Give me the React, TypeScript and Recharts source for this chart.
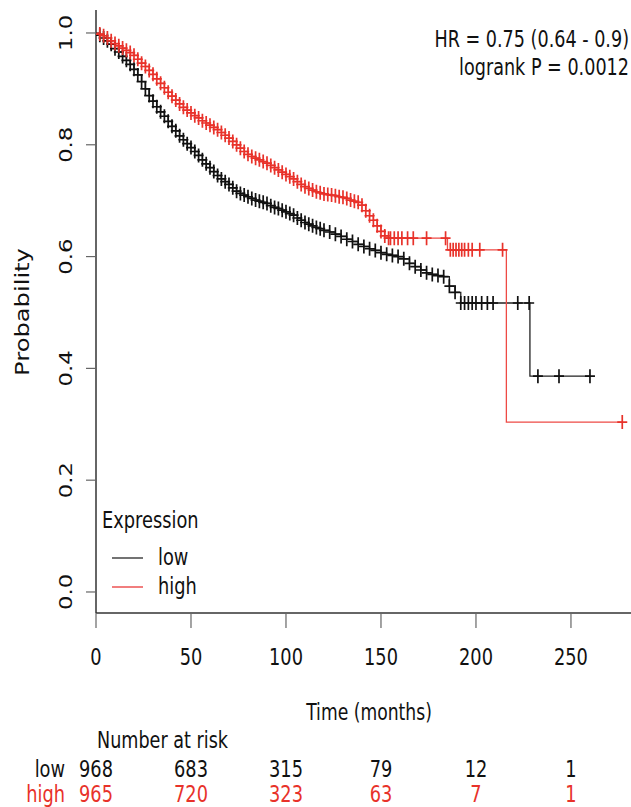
import React from "react";
import { ComposedChart, Line, XAxis, YAxis } from "recharts";

// Kaplan-Meier steps: time (months), survival, censored flag
const lowTime = [
  0, 2, 4, 6, 8, 10, 12, 14, 16, 18, 20, 22, 24, 26, 28, 30, 32, 34, 36, 38, 40, 42, 44, 46, 48, 50,
  52, 54, 56, 58, 60, 62, 64, 66, 68, 70, 72, 74, 76, 78, 80, 82, 84, 86, 88, 90, 92, 94, 96, 98, 100,
  102, 104, 106, 108, 110, 112, 114, 116, 118, 120, 123, 126, 129, 132, 135, 138, 141, 144, 147, 150,
  153, 156, 159, 162, 165, 168, 171, 174, 177, 180, 183, 186, 189, 192, 194, 196, 198, 200, 203, 206,
  209, 222, 228, 228.4, 232.6, 243.7, 260,
];
const lowSurv = [
  1.0, 0.996, 0.991, 0.986, 0.98, 0.972, 0.966, 0.958, 0.951, 0.944, 0.935, 0.925, 0.913, 0.9, 0.888,
  0.878, 0.868, 0.859, 0.851, 0.842, 0.833, 0.825, 0.816, 0.809, 0.802, 0.795, 0.788, 0.781, 0.773,
  0.766, 0.759, 0.752, 0.745, 0.739, 0.734, 0.729, 0.723, 0.717, 0.713, 0.71, 0.707, 0.704, 0.701,
  0.699, 0.697, 0.695, 0.691, 0.688, 0.686, 0.683, 0.68, 0.677, 0.674, 0.669, 0.665, 0.661, 0.658,
  0.655, 0.652, 0.65, 0.647, 0.644, 0.64, 0.636, 0.631, 0.627, 0.622, 0.618, 0.614, 0.611, 0.607,
  0.604, 0.602, 0.6, 0.596, 0.588, 0.582, 0.576, 0.571, 0.568, 0.566, 0.564, 0.547, 0.536, 0.517,
  0.517, 0.517, 0.517, 0.517, 0.517, 0.517, 0.517, 0.517, 0.517, 0.386, 0.386, 0.386, 0.386,
];
const lowCens = [
  0, 1, 1, 1, 1, 1, 1, 1, 1, 1, 1, 1, 1, 1, 1, 1, 1, 1, 1, 1, 1, 1, 1, 1, 1, 1, 1, 1, 1, 1, 1, 1, 1,
  1, 1, 1, 1, 1, 1, 1, 1, 1, 1, 1, 1, 1, 1, 1, 1, 1, 1, 1, 1, 1, 1, 1, 1, 1, 1, 1, 1, 1, 1, 1, 1, 1,
  1, 1, 1, 1, 1, 1, 1, 1, 1, 1, 1, 1, 1, 1, 1, 1, 1, 1, 1, 1, 1, 1, 1, 1, 1, 1, 1, 1, 0, 1, 1, 1,
];

const highTime = [
  0, 2, 4, 6, 8, 10, 12, 14, 16, 18, 20, 22, 24, 26, 28, 30, 32, 34, 36, 38, 40, 42, 44, 46, 48, 50,
  52, 54, 56, 58, 60, 62, 64, 66, 68, 70, 72, 74, 76, 78, 80, 82, 84, 86, 88, 90, 92, 94, 96, 98, 100,
  102, 104, 106, 108, 110, 112, 114, 116, 118, 120, 122, 124, 126, 128, 130, 132, 134, 136, 138, 140,
  142, 144, 146, 148, 150, 152, 154, 155, 157, 159, 161, 164, 167, 174, 184, 185, 186.5, 188, 189.5,
  191, 192.5, 194, 196, 198, 202, 214, 216, 277,
];
const highSurv = [
  1.0, 0.998, 0.995, 0.991, 0.986, 0.981, 0.977, 0.973, 0.969, 0.965, 0.96, 0.953, 0.946, 0.94, 0.933,
  0.926, 0.918, 0.91, 0.902, 0.894, 0.887, 0.88, 0.873, 0.867, 0.862, 0.857, 0.852, 0.848, 0.843,
  0.839, 0.835, 0.831, 0.827, 0.822, 0.817, 0.812, 0.806, 0.8, 0.794, 0.788, 0.783, 0.779, 0.776,
  0.773, 0.77, 0.767, 0.763, 0.759, 0.755, 0.751, 0.747, 0.743, 0.739, 0.734, 0.729, 0.725, 0.722,
  0.719, 0.716, 0.714, 0.712, 0.711, 0.71, 0.709, 0.707, 0.706, 0.704, 0.701, 0.699, 0.697, 0.692,
  0.682, 0.673, 0.665, 0.655, 0.645, 0.637, 0.633, 0.633, 0.633, 0.633, 0.633, 0.633, 0.633, 0.633,
  0.633, 0.612, 0.612, 0.612, 0.612, 0.612, 0.612, 0.612, 0.612, 0.612, 0.612, 0.612, 0.304, 0.304,
];
const highCens = [
  0, 1, 1, 1, 1, 1, 1, 1, 1, 1, 1, 1, 1, 1, 1, 1, 1, 1, 1, 1, 1, 1, 1, 1, 1, 1, 1, 1, 1, 1, 1, 1, 1,
  1, 1, 1, 1, 1, 1, 1, 1, 1, 1, 1, 1, 1, 1, 1, 1, 1, 1, 1, 1, 1, 1, 1, 1, 1, 1, 1, 1, 1, 1, 1, 1, 1,
  1, 1, 1, 1, 1, 1, 1, 1, 1, 1, 1, 1, 1, 1, 1, 1, 1, 1, 1, 1, 0, 1, 1, 1, 1, 1, 1, 1, 1, 1, 1, 0, 1,
];

const timeTicks = [0, 50, 100, 150, 200, 250];
const probTicks = [0, 0.2, 0.4, 0.6, 0.8, 1.0];
const lowAtRisk = [968, 683, 315, 79, 12, 1];
const highAtRisk = [965, 720, 323, 63, 7, 1];

const FONT = "'DejaVu Sans', Verdana, sans-serif";
const SY = 1.3; // the picture is stretched vertically
const RED = "#e8322a";
const BLACK = "#111";

const toRows = (time: number[], surv: number[], cens: number[]) =>
  time.map((t, i) => ({ t, s: surv[i], c: cens[i] }));

const lowRows = toRows(lowTime, lowSurv, lowCens);
const highRows = toRows(highTime, highSurv, highCens);

const censorMark = (color: string) => (props: any) => {
  const { cx, cy, payload, index } = props;
  if (!payload || !payload.c || cx == null) return <g key={`n${index}`} />;
  return (
    <path
      key={`m${index}`}
      d={`M${cx - 5},${cy}H${cx + 5}M${cx},${cy - 7}V${cy + 7}`}
      stroke={color}
      strokeWidth={1.7}
      fill="none"
    />
  );
};

function Txt({ x, y, children, size = 17.8, anchor = "start", fill = "#111", rotate = false }: any) {
  const tf = `translate(${x},${y}) scale(1,${SY})${rotate ? " rotate(-90)" : ""}`;
  return (
    <text transform={tf} textAnchor={anchor} fontSize={size} fontFamily={FONT} fill={fill}>
      {children}
    </text>
  );
}

function TimeTick({ x, y, payload }: any) {
  const i = timeTicks.indexOf(payload.value);
  return (
    <g>
      <Txt x={x} y={y + 37} anchor="middle">{payload.value}</Txt>
      <Txt x={x} y={y + 149} anchor="middle">{lowAtRisk[i]}</Txt>
      <Txt x={x} y={y + 174} anchor="middle" fill={RED}>{highAtRisk[i]}</Txt>
    </g>
  );
}

function ProbTick({ x, y, payload }: any) {
  return (
    <Txt x={x - 14} y={y} anchor="middle" size={17.5} rotate>
      {payload.value.toFixed(1)}
    </Txt>
  );
}

export default function App() {
  return (
    <div style={{ position: "absolute", left: 0, top: 0, width: 631, height: 807, background: "#fff" }}>
      <ComposedChart width={631} height={807} margin={{ top: 10, right: 0, bottom: 0, left: 0 }}>
        <XAxis
          xAxisId="top"
          orientation="top"
          type="number"
          dataKey="t"
          domain={[0, 281.6]}
          height={0}
          tick={false}
          tickLine={false}
          axisLine={{ stroke: "#999", strokeWidth: 1.5 }}
        />
        <XAxis
          type="number"
          dataKey="t"
          domain={[0, 281.6]}
          allowDataOverflow
          ticks={timeTicks}
          height={194}
          tickSize={15}
          tickMargin={0}
          tickLine={{ stroke: "#666", strokeWidth: 1.2 }}
          axisLine={{ stroke: "#333", strokeWidth: 1.5 }}
          tick={<TimeTick />}
          interval={0}
        />
        <YAxis
          type="number"
          domain={[-0.0376, 1.0411]}
          allowDataOverflow
          ticks={probTicks}
          width={96}
          tickSize={10}
          tickMargin={0}
          tickLine={{ stroke: "#666", strokeWidth: 1.2 }}
          axisLine={{ stroke: "#333", strokeWidth: 1.5 }}
          tick={<ProbTick />}
          interval={0}
        />
        <Line
          data={lowRows}
          dataKey="s"
          type="stepAfter"
          stroke="#222"
          strokeWidth={1.3}
          dot={censorMark(BLACK)}
          activeDot={false}
          isAnimationActive={false}
        />
        <Line
          data={highRows}
          dataKey="s"
          type="stepAfter"
          stroke="#ee4a45"
          strokeWidth={1.3}
          dot={censorMark(RED)}
          activeDot={false}
          isAnimationActive={false}
        />
      </ComposedChart>
      <svg
        width={631}
        height={807}
        style={{ position: "absolute", left: 0, top: 0, pointerEvents: "none" }}
      >
        <Txt x={629} y={47} anchor="end" size={17.6}>HR = 0.75 (0.64 - 0.9)</Txt>
        <Txt x={629} y={75} anchor="end" size={17.6}>logrank P = 0.0012</Txt>
        <Txt x={29} y={312} anchor="middle" size={18.6} rotate>Probability</Txt>
        <Txt x={369} y={720} anchor="middle" size={17.2}>Time (months)</Txt>
        <Txt x={97} y={748} size={17.6}>Number at risk</Txt>
        <Txt x={65} y={777} anchor="end">low</Txt>
        <Txt x={65} y={802} anchor="end" fill={RED}>high</Txt>
        <Txt x={102} y={528}>Expression</Txt>
        <line x1={112} x2={143} y1={558} y2={558} stroke="#444" strokeWidth={1.5} />
        <line x1={112} x2={143} y1={587} y2={587} stroke="#f07070" strokeWidth={1.8} />
        <Txt x={158} y={565}>low</Txt>
        <Txt x={158} y={594}>high</Txt>
      </svg>
    </div>
  );
}
